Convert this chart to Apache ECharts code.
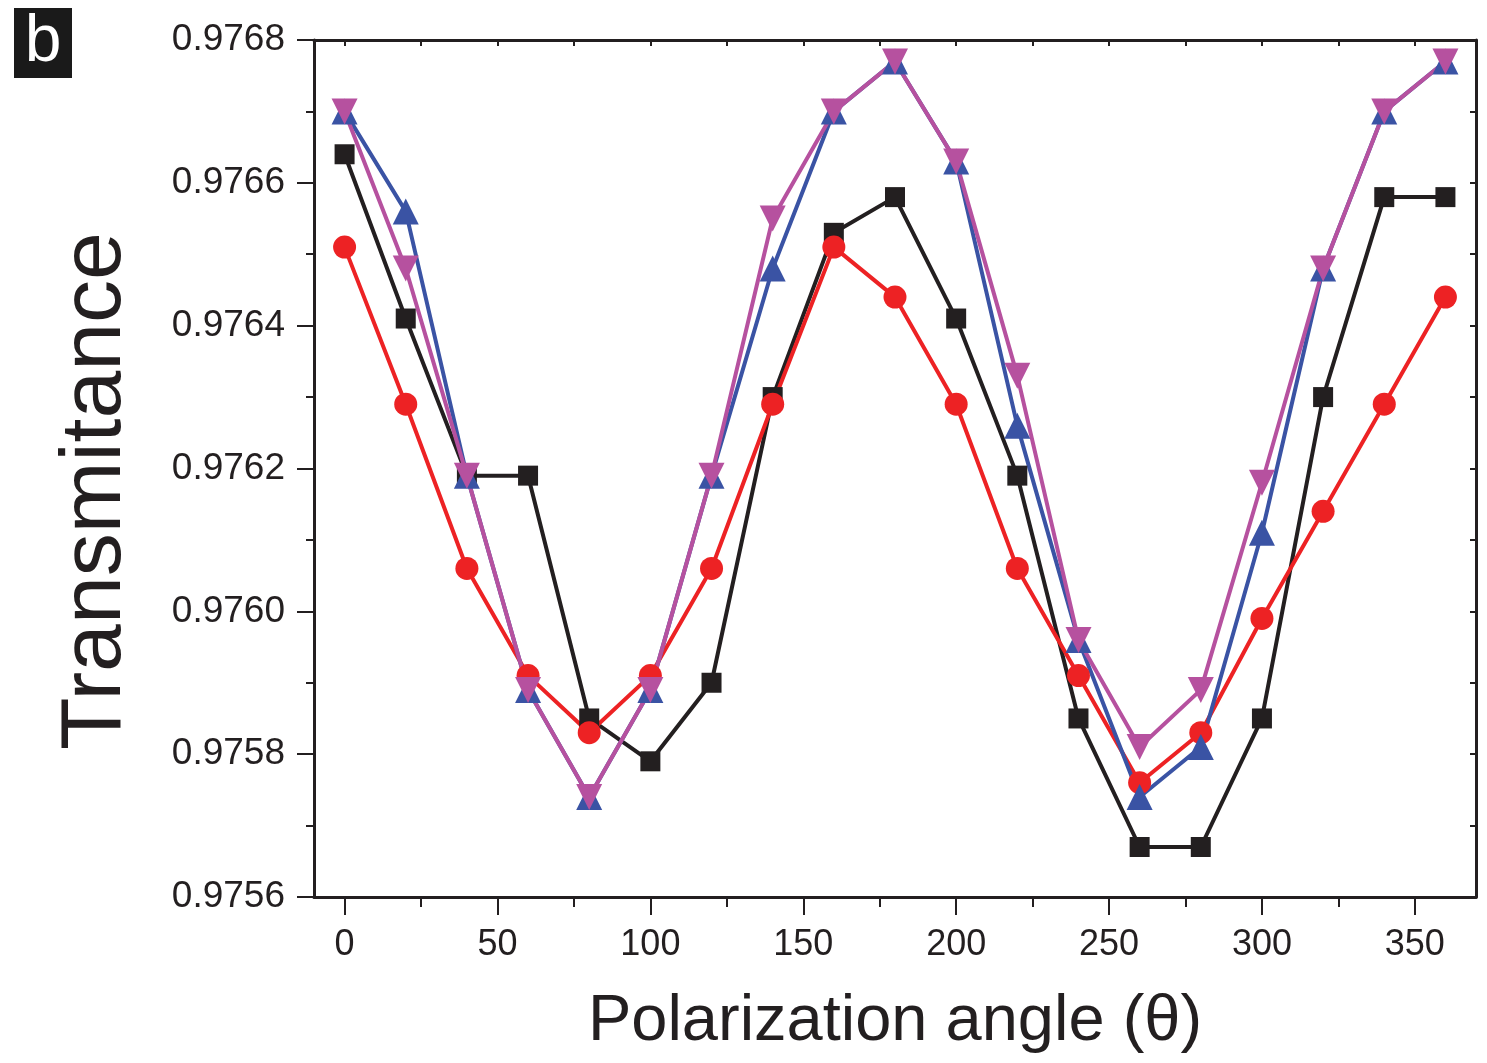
<!DOCTYPE html>
<html>
<head>
<meta charset="utf-8">
<script src="https://cdn.jsdelivr.net/npm/echarts@6/dist/echarts.min.js"></script>
<style>
html,body{margin:0;padding:0;background:#fff;}
#chart{width:1487px;height:1063px;}
</style>
</head>
<body>
<div id="chart"></div>
<script>
const angles = [0,20,40,60,80,100,120,140,160,180,200,220,240,260,280,300,320,340,360];
const blackSquares = [0.97664,0.97641,0.97619,0.97619,0.97585,0.97579,0.97590,0.97630,0.97653,0.97658,0.97641,0.97619,0.97585,0.97567,0.97567,0.97585,0.97630,0.97658,0.97658];
const redCircles = [0.97651,0.97629,0.97606,0.97591,0.97583,0.97591,0.97606,0.97629,0.97651,0.97644,0.97629,0.97606,0.97591,0.97576,0.97583,0.97599,0.97614,0.97629,0.97644];
const blueUp = [0.97670,0.97656,0.97619,0.97589,0.97574,0.97589,0.97619,0.97648,0.97670,0.97677,0.97663,0.97626,0.97596,0.97574,0.97581,0.97611,0.97648,0.97670,0.97677];
const magentaDown = [0.97670,0.97648,0.97619,0.97589,0.97574,0.97589,0.97619,0.97655,0.97670,0.97677,0.97663,0.97633,0.97596,0.97581,0.97589,0.97618,0.97648,0.97670,0.97677];

const xMajorTicks = [0,50,100,150,200,250,300,350];
const xMinorTicks = [25,75,125,175,225,275,325];
const xTopTicks = [0,25,50,75,100,125,150,175,200,225,250,275,300,325,350];

const xTitle = 'Polarization angle (θ)';
const yTitle = 'Transmitance';
const panelLabel = 'b';

const FONT = 'Liberation Sans, Arial, sans-serif';
const AX = '#231f20';

function pairs(vals){ return angles.map((a,i)=>[a, vals[i]]); }

function mkSeries(vals, color, symbol, size, rotate){
  return {
    type:'line', data:pairs(vals), symbol:symbol, symbolSize:size, symbolRotate:rotate||0,
    lineStyle:{color:color, width:4}, itemStyle:{color:color}, animation:false,
    xAxisIndex:0, yAxisIndex:0, z:3
  };
}

const X_MIN = -10, X_MAX = 370;

const chart = echarts.init(document.getElementById('chart'));
chart.setOption({
  backgroundColor:'#fff',
  animation:false,
  grid:{left:314, top:40, right:11, bottom:166, containLabel:false},
  xAxis:[{
    type:'value', min:X_MIN, max:X_MAX, position:'bottom',
    axisLine:{show:true, onZero:false, lineStyle:{color:AX, width:3}},
    axisTick:{show:true, inside:false, length:18, customValues:xMajorTicks, lineStyle:{color:AX, width:2}},
    splitLine:{show:false},
    axisLabel:{fontFamily:FONT, fontSize:36, color:AX, margin:30, customValues:xMajorTicks}
  },{
    type:'value', min:X_MIN, max:X_MAX, position:'top',
    axisLine:{show:true, onZero:false, lineStyle:{color:AX, width:3}},
    axisTick:{show:true, inside:true, length:6, customValues:xTopTicks, lineStyle:{color:AX, width:2}},
    axisLabel:{show:false}, splitLine:{show:false}
  },{
    type:'value', min:X_MIN, max:X_MAX, position:'bottom', offset:0,
    axisLine:{show:false, onZero:false},
    axisTick:{show:true, inside:false, length:10, customValues:xMinorTicks, lineStyle:{color:AX, width:2}},
    axisLabel:{show:false}, splitLine:{show:false}
  }],
  yAxis:[{
    type:'value', min:0.9756, max:0.9768, interval:0.0002, position:'left',
    axisLine:{show:true, onZero:false, lineStyle:{color:AX, width:3}},
    axisTick:{show:true, inside:false, length:17, lineStyle:{color:AX, width:2}},
    minorTick:{show:true, splitNumber:2, length:8, lineStyle:{color:AX, width:2}},
    splitLine:{show:false},
    axisLabel:{fontFamily:FONT, fontSize:37, color:AX, margin:29,
      formatter:function(v){ return v.toFixed(4);} }
  },{
    type:'value', min:0.9756, max:0.9768, interval:0.0001, position:'right',
    axisLine:{show:true, onZero:false, lineStyle:{color:AX, width:3}},
    axisTick:{show:true, inside:true, length:6, lineStyle:{color:AX, width:2}},
    axisLabel:{show:false}, splitLine:{show:false}
  }],
  series:[
    mkSeries(blackSquares, '#231f20', 'rect', 20),
    mkSeries(redCircles, '#ed2224', 'circle', 23),
    mkSeries(blueUp, '#3a53a4', 'triangle', 26),
    mkSeries(magentaDown, '#b6519f', 'triangle', 26, 180)
  ],
  graphic:[
    {type:'rect', left:14, top:8, shape:{width:58, height:70}, style:{fill:'#1a1a1a'}},
    {type:'text', x:43, y:43, style:{text:panelLabel, fill:'#fff', font:'66px '+FONT, textAlign:'center', textVerticalAlign:'middle'}},
    {type:'text', x:96, y:491, rotation:Math.PI/2, style:{text:yTitle, fill:AX, font:'86px '+FONT, textAlign:'center', textVerticalAlign:'middle'}},
    {type:'text', x:895, y:1022, style:{text:xTitle, fill:AX, font:'65px '+FONT, textAlign:'center', textVerticalAlign:'middle'}}
  ]
});
</script>
</body>
</html>
